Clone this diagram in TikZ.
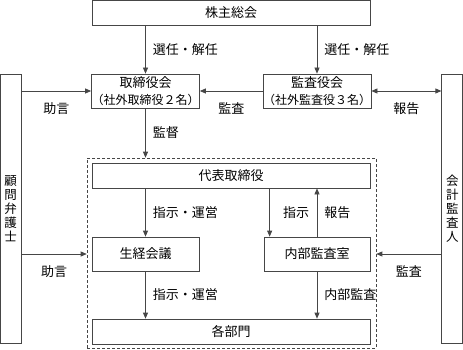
\documentclass[tikz,border=0pt]{standalone}
\usepackage{fontspec}
\setmainfont{Noto Sans CJK JP}
\usetikzlibrary{arrows.meta, calc}
\definecolor{linegray}{RGB}{70,70,70}
\newcommand{\subline}[1]{{\fontsize{12}{14}\selectfont #1}}

\begin{document}
\begin{tikzpicture}[x=1pt, y=-1pt, >={Triangle[length=6pt,width=5pt]},
  box/.style={draw=linegray, line width=0.7pt, minimum width=#1, inner sep=0pt, align=center,
    font=\fontsize{13}{17}\selectfont},
  side/.style={box=21pt, minimum height=269pt, font=\fontsize{12.5}{14}\selectfont},
  lbl/.style={inner sep=0pt, font=\fontsize{13}{14}\selectfont},
  arr/.style={->, draw=linegray, line width=0.7pt}]
  \useasboundingbox (0,0) rectangle (463,350);
  % top level
  \node[box=278pt, minimum height=25pt] (agm) at (231,12.5) {株主総会};
  \node[box=107pt, minimum height=34pt] (board) at (145.5,91) {取締役会\\\subline{（社外取締役２名）}};
  \node[box=106pt, minimum height=34pt] (kansa) at (317,91) {監査役会\\\subline{（社外監査役３名）}};
  % outside parties
  \node[side] (lawyer) at (10.75,208.5) {顧\\問\\弁\\護\\士};
  \node[side] (auditor) at (452.25,208.5) {会\\計\\監\\査\\人};
  % company
  \node[draw=linegray, densely dashed, line width=0.6pt, minimum width=289pt, minimum height=190pt,
    inner sep=0pt] (company) at (231.5,253) {};
  \node[box=278pt, minimum height=25pt] (ceo) at (231,175.5) {代表取締役};
  \node[box=107pt, minimum height=34pt] (mgmt) at (145.5,254) {生経会議};
  \node[box=106pt, minimum height=34pt] (office) at (317,254) {内部監査室};
  \node[box=278pt, minimum height=25pt] (depts) at (231,331.5) {各部門};
  \coordinate (ofin) at ([xshift=6pt]office.north west);
  % connectors
  \draw[arr] (agm.south -| board) -- (board.north) node[lbl, midway, right=7pt] {選任・解任};
  \draw[arr] (agm.south -| kansa) -- (kansa.north) node[lbl, midway, right=7pt] {選任・解任};
  \draw[arr] (lawyer.east |- board) -- (board.west) node[lbl, midway, below=11pt] {助言};
  \draw[arr] (kansa.west) -- (board.east) node[lbl, midway, below=11pt] {監査};
  \draw[arr, <->] (kansa.east) -- (auditor.west |- kansa) node[lbl, midway, below=11pt] {報告};
  \draw[arr] (board.south) -- (board.south |- company.north) node[lbl, midway, right=7pt] {監督};
  \draw[arr] (ceo.south -| mgmt) -- (mgmt.north) node[lbl, midway, right=7pt] {指示・運営};
  \draw[arr] (ofin |- ceo.south) -- (ofin) node[lbl, midway, right=13pt] {指示};
  \draw[arr] (office.north) -- (office.north |- ceo.south) node[lbl, midway, right=7pt] {報告};
  \draw[arr] (lawyer.east |- mgmt) -- (company.west |- mgmt) node[lbl, midway, below=11pt] {助言};
  \draw[arr] (auditor.west |- office) -- (company.east |- office) node[lbl, midway, below=11pt] {監査};
  \draw[arr] (mgmt.south) -- (mgmt.south |- depts.north) node[lbl, midway, right=7pt] {指示・運営};
  \draw[arr] (office.south) -- (office.south |- depts.north) node[lbl, midway, right=7pt] {内部監査};
\end{tikzpicture}
\end{document}
